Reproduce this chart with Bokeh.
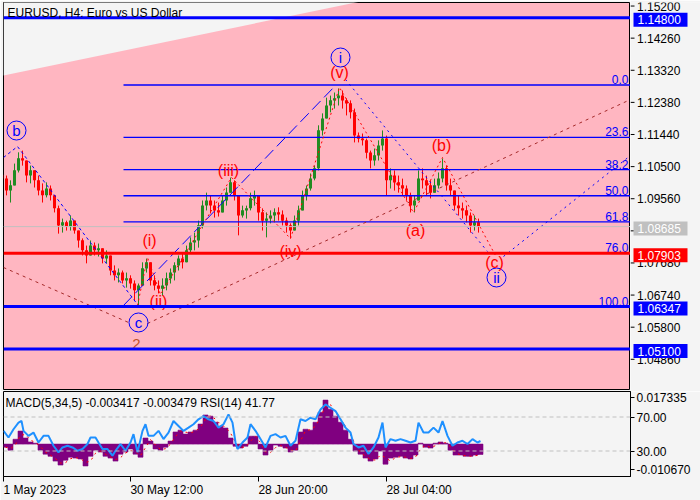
from bokeh.plotting import figure
from bokeh.models import Range1d, FixedTicker, Label, Span, ColumnDataSource
from bokeh.layouts import column, row
from bokeh.embed import file_html
from bokeh.resources import INLINE
from bokeh.core.properties import value

FONT = "Liberation Sans"
PINK = "#ffb6c1"
BG = "#f4f4f4"
BLUE = "#0000ff"
RED = "#ff0000"
BROWN = "#a52a2a"

# ---------------- data ----------------
title_text = "EURUSD, H4:  Euro vs US Dollar"
macd_title = "MACD(5,34,5) -0.003417 -0.003479 RSI(14) 41.77"

date_ticks = [3, 130, 258, 386]
date_labels = ["1 May 2023", "30 May 12:00", "28 Jun 20:00", "28 Jul 04:00"]

price_ticks = [1.15200, 1.14260, 1.13320, 1.12380, 1.11440, 1.10500, 1.09560,
               1.08620, 1.07680, 1.06740, 1.05800, 1.04860]

first_open = 1.1020
highs = [1.1033, 1.1018, 1.1004, 1.1053, 1.1086, 1.1091, 1.1062, 1.1047, 1.1033, 1.1018,
         1.0995, 1.0998, 1.0989, 1.0960, 1.0930, 1.0892, 1.0886, 1.0901, 1.0886, 1.0857,
         1.0834, 1.0813, 1.0828, 1.0822, 1.0819, 1.0805, 1.0799, 1.0784, 1.0755, 1.0746,
         1.0740, 1.0734, 1.0726, 1.0711, 1.0702, 1.0764, 1.0775, 1.0755, 1.0726, 1.0711,
         1.0717, 1.0734, 1.0746, 1.0764, 1.0784, 1.0793, 1.0813, 1.0837, 1.0851, 1.0886,
         1.0945, 1.0968, 1.0960, 1.0945, 1.0939, 1.0960, 1.0983, 1.1012, 1.1004, 1.0960,
         1.0930, 1.0930, 1.0968, 1.0974, 1.0945, 1.0922, 1.0910, 1.0916, 1.0922, 1.0925,
         1.0916, 1.0895, 1.0878, 1.0901, 1.0930, 1.0974, 1.0989, 1.1024, 1.1047, 1.1165,
         1.1200, 1.1246, 1.1252, 1.1261, 1.1273, 1.1267, 1.1244, 1.1238, 1.1214, 1.1144,
         1.1141, 1.1126, 1.1091, 1.1097, 1.1121, 1.1150, 1.1135, 1.1039, 1.1033, 1.1018,
         1.1009, 1.0989, 1.0968, 1.0960, 1.1033, 1.1039, 1.1018, 1.1004, 1.1009, 1.1027,
         1.1068, 1.1047, 1.1009, 1.0974, 1.0960, 1.0939, 1.0930, 1.0910, 1.0901, 1.0892]
lows = [1.0989, 1.0960, 1.0939, 1.0989, 1.1027, 1.1047, 1.0998, 1.0995, 1.0983, 1.0960,
        1.0939, 1.0954, 1.0945, 1.0910, 1.0848, 1.0851, 1.0857, 1.0857, 1.0848, 1.0807,
        1.0784, 1.0761, 1.0784, 1.0784, 1.0781, 1.0761, 1.0761, 1.0726, 1.0711, 1.0705,
        1.0702, 1.0690, 1.0687, 1.0652, 1.0638, 1.0696, 1.0734, 1.0696, 1.0682, 1.0673,
        1.0667, 1.0682, 1.0702, 1.0711, 1.0740, 1.0746, 1.0764, 1.0793, 1.0799, 1.0807,
        1.0863, 1.0916, 1.0907, 1.0895, 1.0898, 1.0910, 1.0930, 1.0968, 1.0945, 1.0843,
        1.0895, 1.0892, 1.0916, 1.0930, 1.0886, 1.0857, 1.0837, 1.0878, 1.0881, 1.0886,
        1.0872, 1.0851, 1.0834, 1.0857, 1.0872, 1.0930, 1.0945, 1.0974, 1.1004, 1.1033,
        1.1135, 1.1194, 1.1203, 1.1214, 1.1223, 1.1214, 1.1194, 1.1185, 1.1115, 1.1115,
        1.1106, 1.1068, 1.1039, 1.1047, 1.1062, 1.1091, 1.0960, 1.0980, 1.0974, 1.0968,
        1.0960, 1.0945, 1.0910, 1.0910, 1.0945, 1.0980, 1.0960, 1.0951, 1.0968, 1.0980,
        1.0998, 1.0974, 1.0960, 1.0916, 1.0901, 1.0892, 1.0881, 1.0851, 1.0857, 1.0851]
closes = [1.1009, 1.0974, 1.0989, 1.1033, 1.1068, 1.1062, 1.1018, 1.1033, 1.1004, 1.0974,
          1.0960, 1.0980, 1.0960, 1.0922, 1.0872, 1.0881, 1.0869, 1.0886, 1.0857, 1.0828,
          1.0799, 1.0784, 1.0813, 1.0799, 1.0805, 1.0775, 1.0784, 1.0740, 1.0726, 1.0734,
          1.0711, 1.0717, 1.0702, 1.0682, 1.0696, 1.0746, 1.0764, 1.0711, 1.0696, 1.0687,
          1.0696, 1.0717, 1.0734, 1.0755, 1.0775, 1.0764, 1.0799, 1.0822, 1.0828, 1.0872,
          1.0930, 1.0945, 1.0930, 1.0916, 1.0910, 1.0945, 1.0968, 1.0998, 1.0960, 1.0901,
          1.0916, 1.0922, 1.0951, 1.0960, 1.0910, 1.0886, 1.0892, 1.0901, 1.0910, 1.0904,
          1.0886, 1.0872, 1.0857, 1.0886, 1.0916, 1.0960, 1.0980, 1.1009, 1.1039, 1.1150,
          1.1185, 1.1223, 1.1238, 1.1244, 1.1252, 1.1238, 1.1229, 1.1203, 1.1135, 1.1126,
          1.1121, 1.1085, 1.1062, 1.1077, 1.1106, 1.1126, 1.1004, 1.1018, 1.0998, 1.0989,
          1.0980, 1.0960, 1.0930, 1.0945, 1.1009, 1.1004, 1.0989, 1.0968, 1.0989, 1.1009,
          1.1039, 1.0989, 1.0974, 1.0930, 1.0922, 1.0916, 1.0901, 1.0872, 1.0881, 1.08685]

level_prices = [1.14800, 1.07903, 1.06347, 1.05100]
level_colors = [BLUE, RED, BLUE, BLUE]
last_price = 1.08685
box_prices = [1.14800, last_price, 1.07903, 1.06347, 1.05100]
box_colors = [BLUE, "#c0c0c0", RED, BLUE, BLUE]

fib_high = 1.12830
fib_low = 1.06347
fib_levels = [0.0, 23.6, 38.2, 50.0, 61.8, 76.0, 100.0]
fib_start = 123

# upper-left grey triangle (channel edge)
tri_x = [3, 3, 365]
tri_y = [1.13108, 1.15304, 1.15304]

# wave lines
bc_x, bc_y = [3, 17, 137], [1.10708, 1.11030, 1.06406]
wi_x, wi_y = [123, 335], [1.06377, 1.12816]
wii_x, wii_y = [345, 487], [1.12991, 1.07957]
up_x, up_y = [503, 630], [1.07811, 1.10767]
br1_x, br1_y = [3, 128], [1.07489, 1.05879]
br2_x, br2_y = [147, 630], [1.05849, 1.12406]
red_x = [137, 147, 160, 231, 290, 339, 413, 442, 495]
red_y = [1.06377, 1.07781, 1.06698, 1.10123, 1.08337, 1.12757, 1.09098, 1.10708, 1.07840]

circ_x = [16, 138, 340, 496]
circ_y = [1.11498, 1.05879, 1.13635, 1.07196]
circ_text = ["b", "c", "i", "ii"]
wave_x = [149, 158, 228, 290, 339, 415, 441, 494]
wave_y = [1.08279, 1.06493, 1.10328, 1.07957, 1.13196, 1.08571, 1.11059, 1.07635]
wave_text = ["(i)", "(ii)", "(iii)", "(iv)", "(v)", "(a)", "(b)", "(c)"]
deg_x, deg_y, deg_text = [136], [1.05264], ["2"]

macd_vals = [-0.0010, -0.0020, 0.0016, 0.0043, 0.0020, 0.0007, 0.0003, -0.0020, -0.0033, -0.0040,
             -0.0056, -0.0069, -0.0053, -0.0043, -0.0046, -0.0049, -0.0072, -0.0040, -0.0020, -0.0026,
             -0.0040, -0.0046, -0.0056, -0.0033, -0.0026, -0.0016, -0.0033, -0.0043, 0.0020, 0.0010,
             -0.0016, -0.0020, -0.0010, 0.0010, 0.0040, 0.0046, 0.0033, 0.0040, 0.0046, 0.0066,
             0.0096, 0.0092, 0.0072, 0.0059, 0.0053, 0.0020, -0.0007, -0.0013, -0.0007, 0.0026,
             0.0026, -0.0016, -0.0036, -0.0020, -0.0003, -0.0007, -0.0013, -0.0026, -0.0020, 0.0040,
             0.0049, 0.0046, 0.0072, 0.0105, 0.0145, 0.0115, 0.0092, 0.0072, 0.0046, 0.0016,
             -0.0023, -0.0033, -0.0046, -0.0056, -0.0049, -0.0023, -0.0066, -0.0046, -0.0043, -0.0040,
             -0.0046, -0.0049, -0.0036, 0.0003, -0.0010, -0.0013, 0.0003, 0.0007, 0.0003, -0.0020,
             -0.0036, -0.0036, -0.0040, -0.0040, -0.0036, -0.0034]
macd_top, macd_bottom = 0.017335, -0.010670

rsi_x = [3, 8, 13, 18, 21, 23, 28, 33, 38, 43, 48, 53, 58, 62, 67, 72, 77, 82, 87, 90,
         95, 98, 102, 107, 112, 115, 120, 125, 130, 133, 137, 142, 145, 148, 153, 158, 163, 168, 173, 178,
         183, 188, 193, 198, 203, 208, 213, 218, 223, 228, 232, 235, 237, 242, 247, 250, 255, 260, 265, 270,
         275, 280, 285, 290, 295, 300, 305, 310, 315, 320, 325, 330, 335, 340, 345, 350, 353, 358, 363, 368,
         373, 378, 382, 385, 390, 395, 400, 405, 410, 415, 418, 423, 428, 433, 438, 442, 447, 452, 457, 462,
         467, 472, 477, 480]
rsi_vals = [53.7, 45.9, 55.6, 63.4, 65.3, 53.7, 47.8, 51.7, 40.0, 47.8, 47.8, 36.2, 28.4, 34.2, 36.2, 34.2, 30.3, 32.3, 38.2, 45.9,
            45.9, 40.0, 32.3, 32.3, 24.5, 30.3, 38.2, 30.3, 40.0, 49.8, 28.4, 53.7, 61.5, 47.8, 47.8, 53.7, 44.0, 51.7, 65.3, 59.5,
            53.7, 57.5, 61.5, 67.3, 71.2, 67.3, 65.3, 57.5, 61.5, 73.1, 63.4, 40.0, 32.3, 40.0, 45.9, 61.5, 53.7, 44.0, 34.2, 47.8,
            49.8, 45.9, 47.8, 36.2, 42.0, 67.3, 65.3, 69.2, 67.3, 78.9, 84.8, 80.9, 77.0, 67.3, 57.5, 51.7, 38.2, 34.2, 36.2, 26.5,
            34.2, 45.9, 63.4, 34.2, 44.0, 42.0, 44.0, 42.0, 40.0, 42.0, 63.4, 51.7, 51.7, 57.5, 51.7, 65.3, 47.8, 36.2, 40.0, 42.0,
            38.2, 44.0, 40.0, 41.77]

# ---------------- derived for drawing ----------------
step = 4
cx = [2 + step * i for i in range(len(closes))]
opens = [first_open] + closes[:-1]
c_top = [max(o, c) + 0.00003 for o, c in zip(opens, closes)]
c_bot = [min(o, c) for o, c in zip(opens, closes)]
c_hi = [max(h, o, c) for h, o, c in zip(highs, opens, closes)]
c_lo = [min(l, o, c) for l, o, c in zip(lows, opens, closes)]
c_col = ["#228b22" if c >= o else "#ff0000" for o, c in zip(opens, closes)]
csrc = ColumnDataSource(dict(x=cx, top=c_top, bottom=c_bot, hi=c_hi, lo=c_lo, color=c_col))

macd_x = [5 * (i + 1) for i in range(len(macd_vals))]
signal = [(macd_vals[max(0, i - 1)] + macd_vals[i]) / 2 for i in range(len(macd_vals))]

fib_prices = [fib_high - lv / 100.0 * (fib_high - fib_low) for lv in fib_levels]

# price scale: 1 px = 0.0002927 ; frame rows 2..389
PX = 0.0002927
P_BOTTOM = 1.039176
xr = Range1d(3, 630)

# ---------------- main price panel ----------------
p = figure(frame_width=627, frame_height=387, x_range=xr, y_range=Range1d(P_BOTTOM, P_BOTTOM + 387 * PX),
           x_axis_location=None, y_axis_location=None, output_backend="svg", toolbar_location=None,
           min_border_left=3, min_border_top=2, min_border_bottom=2, min_border_right=0,
           background_fill_color=PINK, border_fill_color=BG, outline_line_color="black")
p.grid.grid_line_color = None

p.patch(tri_x, tri_y, fill_color=BG, line_color=None)

p.segment(x0="x", y0="lo", x1="x", y1="hi", line_color="color", line_width=1, source=csrc)
p.vbar(x="x", top="top", bottom="bottom", width=3.0, fill_color="color", line_color=None, source=csrc)

p.add_layout(Span(location=last_price, dimension="width", line_color="#c0c0c0", line_width=1))

p.segment(x0=[fib_start] * len(fib_prices), x1=[xr.end] * len(fib_prices), y0=fib_prices, y1=fib_prices,
          line_color=BLUE, line_width=1.3)
p.text(x=[xr.end - 2] * len(fib_prices), y=fib_prices, text=[f"{lv:.1f}" for lv in fib_levels],
       text_align="right", text_baseline="bottom", y_offset=-1, text_color=BLUE,
       text_font=value(FONT), text_font_size="12px")

for lp, lc in zip(level_prices, level_colors):
    p.add_layout(Span(location=lp, dimension="width", line_color=lc, line_width=3))

p.line(bc_x, bc_y, line_color=BLUE, line_width=1, line_dash="3 3")
p.line(wi_x, wi_y, line_color=BLUE, line_width=1, line_dash="12 5")
p.line(wii_x, wii_y, line_color=BLUE, line_width=1, line_dash="2 4")
p.line(up_x, up_y, line_color=BLUE, line_width=1, line_dash="2 4")
p.line(br1_x, br1_y, line_color=BROWN, line_width=1, line_dash="3 4")
p.line(br2_x, br2_y, line_color=BROWN, line_width=1, line_dash="3 4")
p.line(red_x, red_y, line_color=RED, line_width=1, line_dash="2 3")

p.scatter(circ_x, circ_y, marker="circle", size=19, fill_color=None, line_color=BLUE, line_width=1)
p.text(x=circ_x, y=circ_y, text=circ_text, text_align="center", text_baseline="middle",
       text_color=BLUE, text_font=value(FONT), text_font_size="15px")
p.text(x=wave_x, y=wave_y, text=wave_text, text_align="center", text_baseline="middle",
       text_color=RED, text_font=value(FONT), text_font_size="16px")
p.text(x=deg_x, y=deg_y, text=deg_text, text_align="center", text_baseline="middle",
       text_color="#c0502a", text_font=value(FONT), text_font_size="15px")

p.add_layout(Label(x=7, y=P_BOTTOM + (389 - 12) * PX, text=title_text, text_align="left",
                   text_baseline="middle", text_font=FONT, text_font_size="12px", text_color="black"))

# ---------------- price scale strip (ticks, labels, price boxes) ----------------
pa = figure(frame_width=70, frame_height=389, x_range=Range1d(0, 70),
            y_range=Range1d(P_BOTTOM, P_BOTTOM + 389 * PX),
            x_axis_location=None, y_axis_location=None, output_backend="svg", toolbar_location=None,
            min_border_left=0, min_border_top=0, min_border_bottom=2, min_border_right=0,
            background_fill_color=BG, border_fill_color=BG, outline_line_color=None)
pa.grid.grid_line_color = None
pa.segment(x0=[0] * len(price_ticks), x1=[4] * len(price_ticks), y0=price_ticks, y1=price_ticks,
           line_color="black", line_width=1)
pa.text(x=[6.5] * len(price_ticks), y=price_ticks, text=[f"{t:.5f}" for t in price_ticks],
        text_align="left", text_baseline="middle", text_color="black",
        text_font=value(FONT), text_font_size="12px")
pa.rect(x=[30] * len(box_prices), y=box_prices, width=54, height=14, width_units="screen",
        height_units="screen", fill_color=box_colors, line_color=None)
pa.text(x=[7] * len(box_prices), y=box_prices, text=[f"{b:.5f}" for b in box_prices],
        text_align="left", text_baseline="middle", text_color="white",
        text_font=value(FONT), text_font_size="12px")

# ---------------- MACD / RSI panel ----------------
m = figure(frame_width=627, frame_height=85, x_range=xr, y_range=Range1d(0, 100),
           x_axis_location="below", y_axis_location="right", output_backend="svg", toolbar_location=None,
           min_border_left=3, min_border_top=0, min_border_bottom=24, min_border_right=70,
           background_fill_color=BG, border_fill_color=BG, outline_line_color="black")
m.grid.grid_line_color = None
m.extra_y_ranges = {"macd": Range1d(macd_bottom, macd_top)}

top_eq = 92.94
bot_eq = 8.24
my = m.yaxis[0]
my.ticker = FixedTicker(ticks=[bot_eq, 30, 70, top_eq])
my.major_label_overrides = {bot_eq: f"{macd_bottom:.6f}", 30: "30.00", 70: "70.00", top_eq: f"{macd_top:.6f}"}
my.axis_line_color = "black"
my.major_tick_line_color = "black"
my.major_tick_in = 0
my.major_tick_out = 4
my.minor_tick_out = 0
my.minor_tick_in = 0
my.major_label_standoff = 2
my.major_label_text_font = FONT
my.major_label_text_font_size = "12px"
my.major_label_text_color = "black"

# date labels sit to the right of their tick marks: label anchors are shifted by half a label width,
# the tick marks themselves are drawn as minor ticks at the true dates
label_w = [62.7, 72.7, 69.3, 65.3]
label_pos = [round(t + w / 2.0, 1) for t, w in zip(date_ticks, label_w)]
xa = m.xaxis[0]
xa.ticker = FixedTicker(ticks=label_pos, minor_ticks=date_ticks)
xa.major_label_overrides = {lp: lbl for lp, lbl in zip(label_pos, date_labels)}
xa.axis_line_color = "black"
xa.major_tick_line_color = None
xa.major_tick_out = 5
xa.major_tick_in = 0
xa.minor_tick_line_color = "black"
xa.minor_tick_out = 5
xa.minor_tick_in = 0
xa.major_label_standoff = 1
xa.major_label_text_font = FONT
xa.major_label_text_font_size = "12px"
xa.major_label_text_color = "black"

for lvl in (70, 30):
    m.add_layout(Span(location=lvl, dimension="width", line_color="#c0c0c0", line_width=1, line_dash="4 3"))

m.vbar(x=macd_x, top=macd_vals, bottom=0, width=5, y_range_name="macd", fill_color="#800080",
       line_color="#800080", line_width=0.6)
m.line(macd_x, signal, y_range_name="macd", line_color=RED, line_width=1, line_dash="2 4")
m.line(rsi_x, rsi_vals, line_color="#1e90ff", line_width=2)

m.add_layout(Label(x=5, y=87, text=macd_title, text_align="left", text_baseline="middle",
                   text_font=FONT, text_font_size="12px", text_color="black"))

layout = column(row(p, pa), m)
open("out.html", "w").write(file_html(layout, INLINE))
